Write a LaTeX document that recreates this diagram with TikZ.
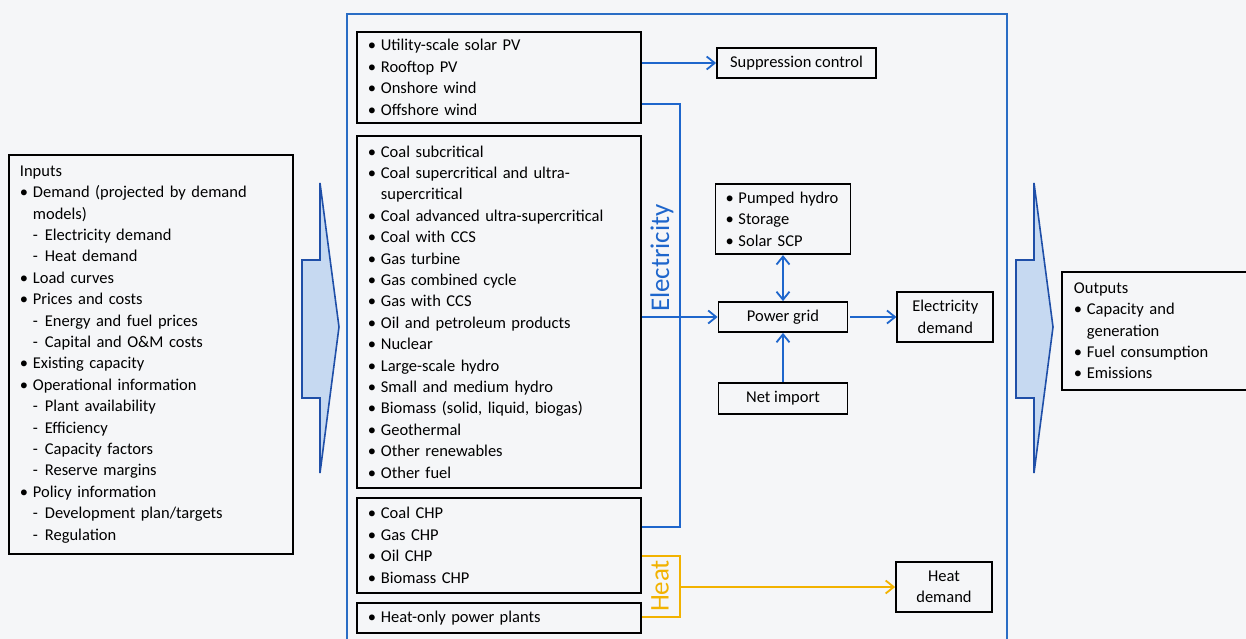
\documentclass[tikz,border=0pt]{standalone}
\usepackage{fontspec}
\setmainfont{Carlito}
\usetikzlibrary{arrows.meta,positioning}

\definecolor{bgC}{HTML}{F5F6F8}
\definecolor{elecC}{HTML}{1E66CC}
\definecolor{frameC}{HTML}{2A6DC5}
\definecolor{heatC}{HTML}{F2B200}
\definecolor{arrowFill}{HTML}{C6D9F1}
\definecolor{arrowLine}{HTML}{1F4FA8}

\newcommand\bl{\makebox[13pt][l]{\textbullet}}
\newcommand\dl{\hspace*{13pt}\makebox[12pt][l]{-}}

\begin{document}
\begin{tikzpicture}
  [x=1pt,y=-1pt,
   font=\fontsize{16.5}{21.4}\selectfont,
   listN/.style={draw,line width=1.8pt,align=left,inner xsep=11pt,inner ysep=0pt,
                 anchor=north west,text width=262pt},
   smallN/.style={draw,line width=1.8pt,align=center,inner sep=0pt},
   bigA/.style={fill=arrowFill,draw=arrowLine,line width=1.6pt,line join=miter},
   elecA/.style={draw=elecC,line width=1.8pt,-{Straight Barb[length=8pt,width=13pt]}},
   elecL/.style={draw=elecC,line width=1.8pt},
   heatL/.style={draw=heatC,line width=1.8pt},
   heatA/.style={heatL,-{Straight Barb[length=8pt,width=13pt]}},
   node distance=46pt]

  \useasboundingbox (0,0) rectangle (1246,639);
  \clip (0,0) rectangle (1246,639);
  \fill[bgC] (0,0) rectangle (1246,639);

  % model frame
  \draw[frameC,line width=1.6pt] (347,14) rectangle (1007,660);

  % inputs and the two big arrows
  \node[listN,minimum height=399pt] (inB) at (8,154)
    {Inputs\\
     \bl Demand (projected by demand\\
     \hspace*{13pt}models)\\
     \dl Electricity demand\\
     \dl Heat demand\\
     \bl Load curves\\
     \bl Prices and costs\\
     \dl Energy and fuel prices\\
     \dl Capital and O\&M costs\\
     \bl Existing capacity\\
     \bl Operational information\\
     \dl Plant availability\\
     \dl Efficiency\\
     \dl Capacity factors\\
     \dl Reserve margins\\
     \bl Policy information\\
     \dl Development plan/targets\\
     \dl Regulation};

  \draw[bigA] (302,260) -- (320,260) -- (320,183) -- (339,327)
    -- (320,473) -- (320,398) -- (302,398) -- cycle;
  \draw[bigA] (1016,260) -- (1034,260) -- (1034,183) -- (1053,327)
    -- (1034,473) -- (1034,398) -- (1016,398) -- cycle;

  \node[listN,text width=171pt,inner xsep=12pt,minimum height=118pt] (outB) at (1061,271)
    {Outputs\\
     \bl Capacity and\\
     \hspace*{13pt}generation\\
     \bl Fuel consumption\\
     \bl Emissions};

  % technology boxes
  \node[listN,minimum height=91pt] (renB) at (356,31)
    {\bl Utility-scale solar PV\\
     \bl Rooftop PV\\
     \bl Onshore wind\\
     \bl Offshore wind};
  \node[listN,minimum height=352pt] (thermB) at (356,135)
    {\bl Coal subcritical\\
     \bl Coal supercritical and ultra-\\
     \hspace*{13pt}supercritical\\
     \bl Coal advanced ultra-supercritical\\
     \bl Coal with CCS\\
     \bl Gas turbine\\
     \bl Gas combined cycle\\
     \bl Gas with CCS\\
     \bl Oil and petroleum products\\
     \bl Nuclear\\
     \bl Large-scale hydro\\
     \bl Small and medium hydro\\
     \bl Biomass (solid, liquid, biogas)\\
     \bl Geothermal\\
     \bl Other renewables\\
     \bl Other fuel};
  \node[listN,minimum height=95pt] (chpB) at (356,497)
    {\bl Coal CHP\\
     \bl Gas CHP\\
     \bl Oil CHP\\
     \bl Biomass CHP};
  \node[listN,minimum height=30pt] (heatOnlyB) at (356,602)
    {\bl Heat-only power plants};

  % grid side
  \node[smallN,minimum width=159pt,minimum height=30pt] (supB) at (796.5,63) {Suppression control};
  \node[smallN,minimum width=129pt,minimum height=30pt] (gridB) at (783,317) {Power grid};
  \node[listN,anchor=south,text width=115pt,inner xsep=10pt,minimum height=70pt] (pumpB) [above=of gridB]
    {\bl Pumped hydro\\
     \bl Storage\\
     \bl Solar SCP};
  \node[smallN,minimum width=129pt,minimum height=31pt] (netB) [below=49pt of gridB] {Net import};
  \node[smallN,minimum width=96pt,minimum height=50pt] (elecDemB) [right=48pt of gridB] {Electricity\\demand};
  \node[smallN,minimum width=96pt,minimum height=50pt] (heatDemB) at (944,587) {Heat\\demand};

  % carrier labels
  \node[elecC,rotate=90,font=\fontsize{27}{30}\selectfont] (elecT) at (662,258) {Electricity};
  \node[heatC,rotate=90,font=\fontsize{27}{30}\selectfont] (heatT) at (660,586) {Heat};

  \coordinate (busTop) at (680,104);
  \coordinate (busBot) at (680,527);
  \coordinate (heatTop) at (680,556);
  \coordinate (heatMid) at (680,587);
  \coordinate (heatBot) at (680,617);

  % electricity flows
  \draw[elecA] (renB.east |- supB.west) -- (supB.west);
  \draw[elecL] (renB.east |- busTop) -- (busTop) -- (busBot) -- (chpB.east |- busBot);
  \draw[elecA] (thermB.east |- gridB.west) -- (gridB.west);
  \draw[elecA,{Straight Barb[length=8pt,width=13pt]}-{Straight Barb[length=8pt,width=13pt]}]
    (pumpB.south) -- (gridB.north);
  \draw[elecA] (netB.north) -- (gridB.south);
  \draw[elecA,shorten <=2pt] (gridB.east) -- (elecDemB.west);

  % heat flows
  \draw[heatL] (chpB.east |- heatTop) -- (heatTop) -- (heatBot) -- (heatOnlyB.east |- heatBot);
  \draw[heatA] (heatMid) -- (heatDemB.west);

\end{tikzpicture}
\end{document}
